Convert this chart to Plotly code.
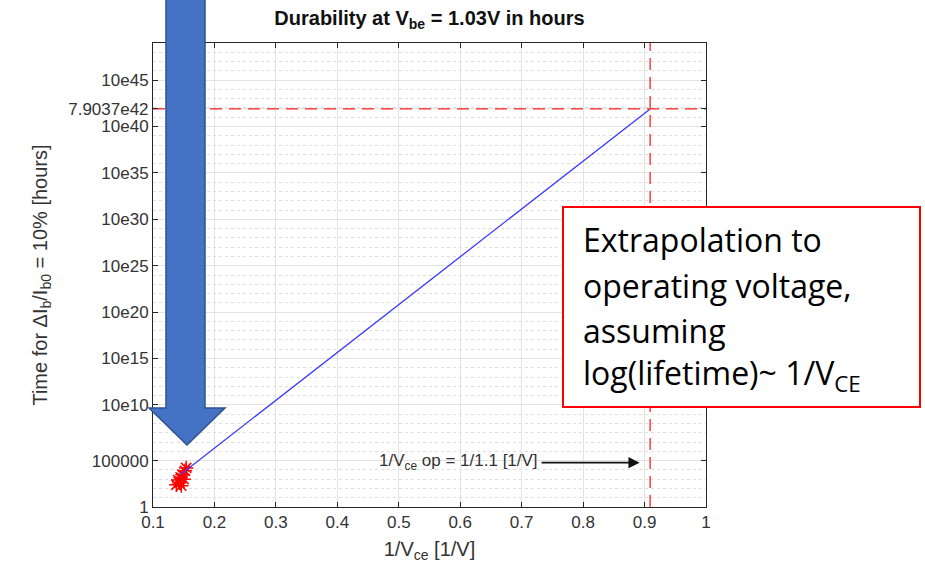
import plotly.graph_objects as go

# ---------------- data ----------------
meas_x = [0.138, 0.141, 0.143, 0.145, 0.146, 0.148, 0.150, 0.152, 0.154]
meas_y = [250, 800, 400, 1600, 200, 3000, 1000, 8000, 16000]

fit_x = [0.145, 0.90909]
fit_y = [3.2e3, 7.9037e42]

op_x = 0.90909          # 1/1.1
op_y = 7.9037e42

x_range = [0.1, 1.0]
y_range_log = [0, 50]

x_ticks = [0.1, 0.2, 0.3, 0.4, 0.5, 0.6, 0.7, 0.8, 0.9, 1.0]
x_ticktext = ["0.1", "0.2", "0.3", "0.4", "0.5", "0.6", "0.7", "0.8", "0.9", "1"]
y_ticks = [1.0, 1e5, 1e11, 1e16, 1e21, 1e26, 1e31, 1e36, 1e41, 1e46, 7.9037e42]
y_ticktext = ["1", "100000", "10e10", "10e15", "10e20", "10e25", "10e30",
              "10e35", "10e40", "10e45", "7.9037e42"]
major_exp = [0, 5, 11, 16, 21, 26, 31, 36, 41, 46]
y_minor = [float(f"1e{k}") for k in range(0, 51) if k not in major_exp]

# ---------------- layout constants (pixels) ----------------
W, H = 925, 563
L, R, T, B = 153, 706, 43, 507   # plot area box


def px(xp):
    return (xp - L) / (R - L)


def py(yp):
    return (B - yp) / (B - T)


FONT = "Liberation Sans, Arial, sans-serif"
AX = "#262626"
TXT = "#333333"

fig = go.Figure()

# measured points
fig.add_trace(go.Scatter(
    x=meas_x, y=meas_y, mode="markers",
    marker=dict(symbol="asterisk-open", size=12, color="red",
                line=dict(color="red", width=1.5)),
    showlegend=False, hoverinfo="skip"))

# fit / extrapolation line
fig.add_trace(go.Scatter(
    x=fit_x, y=fit_y, mode="lines",
    line=dict(color="#3a3aff", width=1.3), showlegend=False))

# operating point dashed lines
y_lo = float(f"1e{y_range_log[0]}")
y_hi = float(f"1e{y_range_log[1]}")
fig.add_trace(go.Scatter(
    x=[op_x, op_x], y=[y_lo, y_hi], mode="lines",
    line=dict(color="#ff2020", width=1.3, dash="12px,7px"), showlegend=False))
fig.add_trace(go.Scatter(
    x=x_range, y=[op_y, op_y], mode="lines",
    line=dict(color="#ff2020", width=1.3, dash="12px,7px"), showlegend=False))

fig.update_layout(
    width=W, height=H,
    margin=dict(l=L, r=W - R, t=T, b=H - B),
    paper_bgcolor="white", plot_bgcolor="white",
    font=dict(family=FONT, color=AX),
    title=dict(text="<b>Durability at V<sub>be</sub> = 1.03V in hours</b>",
               x=(L + R) / 2 / W, xanchor="center", y=1 - 18 / H, yanchor="middle",
               font=dict(size=20, color="#111111")),
    xaxis=dict(range=x_range, tickvals=x_ticks, ticktext=x_ticktext, automargin=False,
               ticks="inside", ticklen=5, tickcolor=AX, showline=True,
               linecolor=AX, linewidth=1, mirror="ticks",
               showgrid=True, gridcolor="#e3e3e3", gridwidth=1, zeroline=False,
               tickfont=dict(size=17, color=TXT),
               title=dict(text="1/V<sub>ce</sub> [1/V]", font=dict(size=20, color=TXT),
                          standoff=10)),
    yaxis=dict(type="log", range=y_range_log, tickvals=y_ticks, ticktext=y_ticktext,
               automargin=False,
               ticks="inside", ticklen=5, tickcolor=AX, showline=True,
               linecolor=AX, linewidth=1, mirror="ticks",
               showgrid=True, gridcolor="#e3e3e3", gridwidth=1, zeroline=False,
               tickfont=dict(size=17, color=TXT),
               minor=dict(tickvals=y_minor, showgrid=True, gridcolor="#dedede",
                          griddash="dot", gridwidth=1, ticks=""),
               title=dict(text="Time for \u0394I<sub>b</sub>/I<sub>b0</sub> = 10% [hours]",
                          font=dict(size=20, color=TXT))),
)

# arrow annotation for the operating point
fig.add_annotation(x=0.892, y=4.78, ax=0.73, ay=4.78, xref="x", yref="y",
                   axref="x", ayref="y", text="", showarrow=True,
                   arrowhead=2, arrowsize=1.4, arrowwidth=1.6, arrowcolor="#111111")
fig.add_annotation(x=0.73, y=4.8, xref="x", yref="y", xanchor="right", yanchor="middle",
                   text="1/V<sub>ce</sub> op = 1/1.1 [1/V]", showarrow=False,
                   font=dict(size=17, color=TXT, family=FONT))

# big blue arrow overlay
pts = [(166, -10), (205, -10), (205, 408), (225, 408), (187, 445), (149, 408), (166, 408)]
path = "M " + " L ".join(f"{px(a):.5f},{py(b):.5f}" for a, b in pts) + " Z"
fig.add_shape(type="path", path=path, xref="paper", yref="paper", layer="above",
              fillcolor="#4472C4", line=dict(color="#2F528F", width=1.5))

# callout box
fig.add_shape(type="rect", xref="paper", yref="paper", layer="above",
              x0=px(563), x1=px(920), y0=py(407), y1=py(207),
              fillcolor="white", line=dict(color="#FF0000", width=2))
callout = ["Extrapolation to", "operating voltage,", "assuming",
           "log(lifetime)~ 1/V<sub>CE</sub>"]
for i, line in enumerate(callout):
    fig.add_annotation(x=px(581), y=py(240 + 45 * i), xref="paper", yref="paper",
                       xanchor="left", yanchor="middle", text=line, showarrow=False,
                       font=dict(size=32, color="black", family="Open Sans, Lato, sans-serif"))

fig.write_html("out.html")
